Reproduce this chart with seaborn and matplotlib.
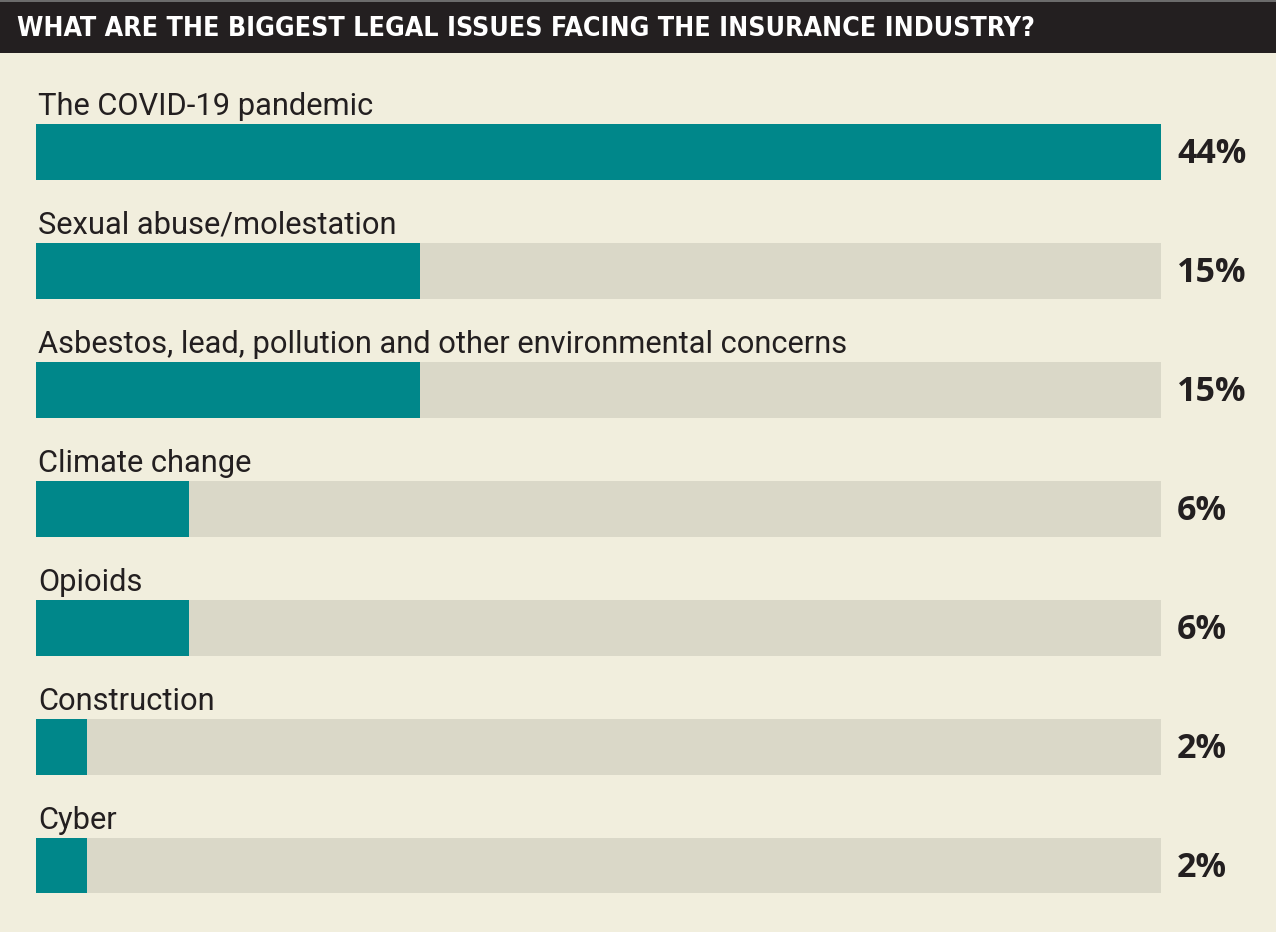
import matplotlib
matplotlib.use("Agg")
import matplotlib.pyplot as plt
import seaborn as sns
from matplotlib import font_manager
from matplotlib.patches import Rectangle

# data
issues = [
    "The COVID-19 pandemic",
    "Sexual abuse/molestation",
    "Asbestos, lead, pollution and other environmental concerns",
    "Climate change",
    "Opioids",
    "Construction",
    "Cyber",
]
shares = [44, 15, 15, 6, 6, 2, 2]
title = "WHAT ARE THE BIGGEST LEGAL ISSUES FACING THE INSURANCE INDUSTRY?"

bg = "#f1eedd"
teal = "#00878a"
track = "#dad8c8"
ink = "#231f20"

sns.set_style("white")
plt.rcParams["font.family"] = ["Roboto", "DejaVu Sans"]

# look for a condensed bold face for the headline, else fall back to Roboto
title_font = None
for f in font_manager.fontManager.ttflist:
    nm = f.name.lower()
    if ("narrow" in nm or "condensed" in nm or f.stretch in ("condensed", "semi-condensed")) \
            and f.weight in ("bold", 700, "heavy", 800):
        title_font = font_manager.FontProperties(fname=f.fname)
        break
if title_font is None:
    title_font = font_manager.FontProperties(family="Roboto", weight="bold")

W, H = 1276, 932
fig = plt.figure(figsize=(W / 100, H / 100), dpi=100, facecolor=bg)

# black title band
fig.patches.append(Rectangle((0, 1 - 53 / H), 1, 51 / H, transform=fig.transFigure,
                             facecolor="#231f20", edgecolor="none", zorder=0))
fig.patches.append(Rectangle((0, 1 - 2 / H), 1, 2 / H, transform=fig.transFigure,
                             facecolor="#6b6b6b", edgecolor="none", zorder=0))
title_font.set_size(27)
t = fig.text(17 / W, 1 - 29 / H, title, color="white", fontproperties=title_font,
             va="center", ha="left")
# shrink the headline until it fits the band like the original (~1016 px)
r = fig.canvas.get_renderer()
w = t.get_window_extent(r).width
if w > 1016:
    title_font.set_size(27 * 1016 / w)
    t.set_fontproperties(title_font)

# bar area
ax = fig.add_axes([36 / W, 1 - 925 / H, 1125 / W, 832.5 / H])
ax.set_facecolor("none")

top = max(shares)
sns.barplot(x=[top] * len(issues), y=issues, orient="h", color=track,
            width=0.47, saturation=1, linewidth=0, ax=ax)
sns.barplot(x=shares, y=issues, orient="h", color=teal,
            width=0.47, saturation=1, linewidth=0, ax=ax)

ax.set_xlim(0, top)
ax.set_ylim(len(issues) - 0.5, -0.5)
ax.axis("off")

for i, (name, v) in enumerate(zip(issues, shares)):
    ax.annotate(name, xy=(0, i - 0.235), xytext=(2, 9), textcoords="offset pixels",
                fontsize=22.2, color=ink, va="baseline", ha="left",
                annotation_clip=False)
    ax.annotate(f"{v}%", xy=(top, i), xytext=(16, -2), textcoords="offset pixels",
                fontsize=24.5, fontweight="bold", family=["Open Sans", "DejaVu Sans"],
                color=ink, va="center", ha="left", annotation_clip=False)

fig.savefig("out.png", dpi=100, facecolor=bg)
